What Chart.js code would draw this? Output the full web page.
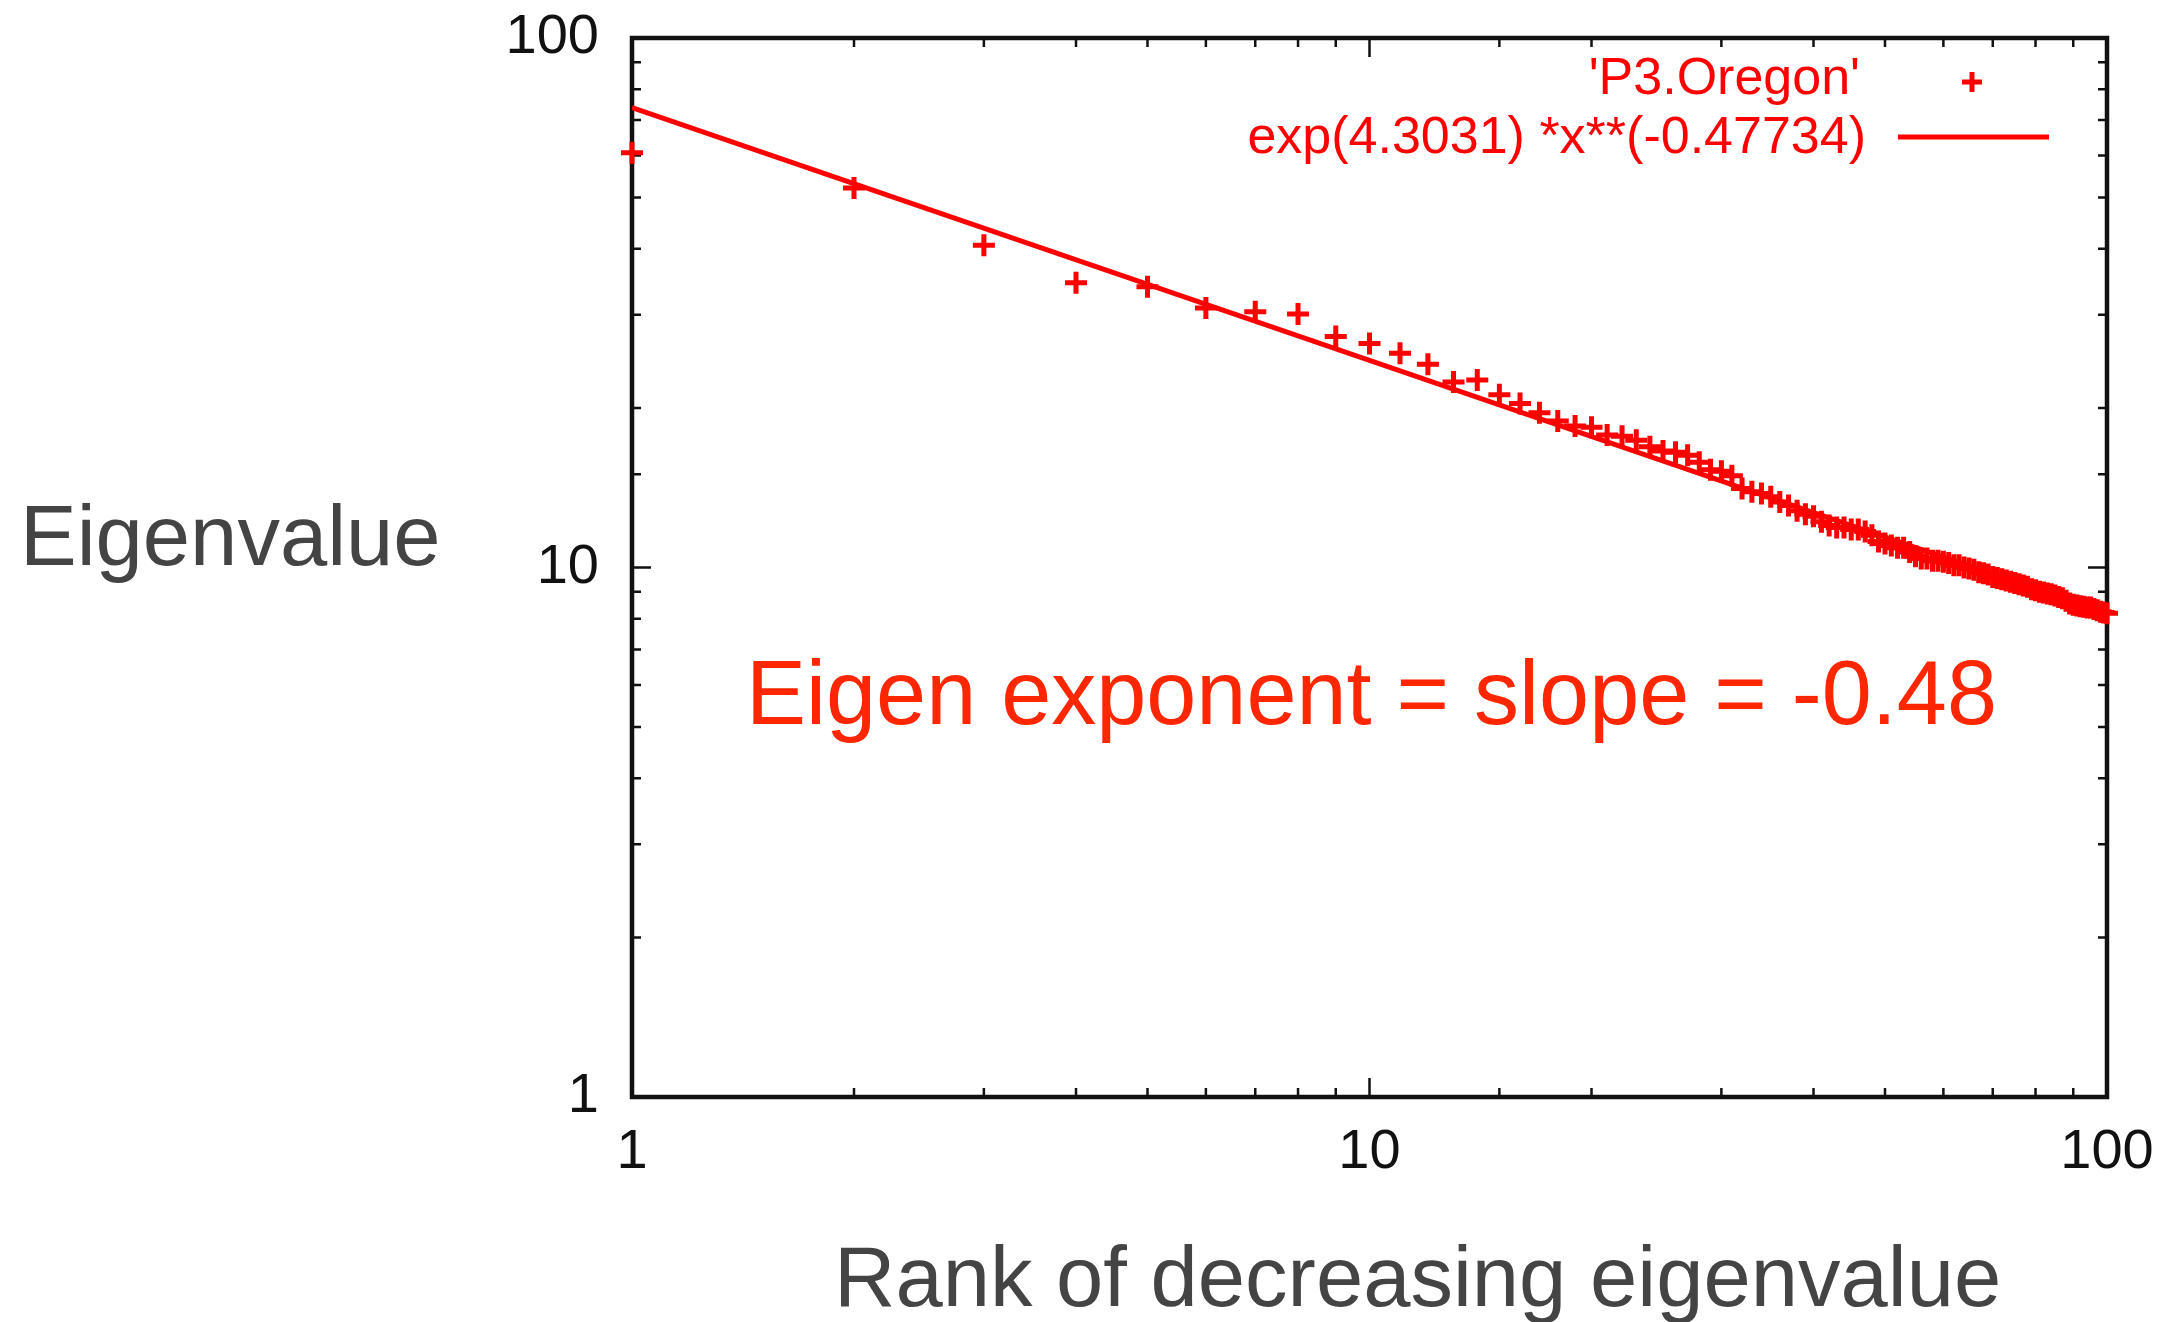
<!DOCTYPE html>
<html>
<head>
<meta charset="utf-8">
<script src="https://cdn.jsdelivr.net/npm/chart.js@4.4.1/dist/chart.umd.min.js"></script>
<style>
  html, body { margin: 0; padding: 0; background: #fff; }
  canvas { display: block; }
</style>
</head>
<body>
<canvas id="chart" width="2160" height="1322"></canvas>
<script>
// rank of each eigenvalue (x) and the eigenvalue (y)
const ranks = [
  1, 2, 3, 4, 5, 6, 7, 8, 9, 10,
  11, 12, 13, 14, 15, 16, 17, 18, 19, 20,
  21, 22, 23, 24, 25, 26, 27, 28, 29, 30,
  31, 32, 33, 34, 35, 36, 37, 38, 39, 40,
  41, 42, 43, 44, 45, 46, 47, 48, 49, 50,
  51, 52, 53, 54, 55, 56, 57, 58, 59, 60,
  61, 62, 63, 64, 65, 66, 67, 68, 69, 70,
  71, 72, 73, 74, 75, 76, 77, 78, 79, 80,
  81, 82, 83, 84, 85, 86, 87, 88, 89, 90,
  91, 92, 93, 94, 95, 96, 97, 98, 99, 100
];
const eigenvalues = [
  60.7, 52.1, 40.6, 34.5, 33.9, 30.9, 30.4, 30.1, 27.3, 26.5,
  25.4, 24.2, 22.4, 22.6, 21.2, 20.4, 19.6, 18.9, 18.5, 18.4,
  17.8, 17.7, 17.4, 16.9, 16.6, 16.5, 16.3, 15.8, 15.3, 15.2,
  14.9, 14.1, 13.9, 13.8, 13.6, 13.3, 13.1, 12.8, 12.6, 12.5,
  12.2, 12.0, 11.9, 11.9, 11.8, 11.8, 11.7, 11.5, 11.2, 11.1,
  11.0, 10.9, 10.9, 10.7, 10.5, 10.4, 10.4, 10.3, 10.3, 10.25,
  10.2, 10.1, 10.1, 10.0, 9.96, 9.9, 9.8, 9.75, 9.7, 9.6,
  9.55, 9.5, 9.45, 9.4, 9.35, 9.3, 9.25, 9.2, 9.1, 9.06,
  9.0, 8.97, 8.93, 8.9, 8.85, 8.8, 8.75, 8.65, 8.55, 8.5,
  8.48, 8.45, 8.43, 8.4, 8.4, 8.35, 8.3, 8.25, 8.22, 8.2
];
// end points of the fitted power law line
const fitX = [1, 100];
const fitY = [73.9, 8.2];

const seriesLabel = "'P3.Oregon'";
const fitLabel = 'exp(4.3031) *x**(-0.47734)';
const yTitle = 'Eigenvalue';
const xTitle = 'Rank of decreasing eigenvalue';
const note = 'Eigen exponent = slope = -0.48';
const tickLabels = [1, 10, 100];

const RED = '#ff0000';
const FONT = '"Liberation Sans", Arial, Helvetica, sans-serif';

const isDecade = v => tickLabels.includes(v);

// gnuplot style frame: border on all sides, ticks pointing inward
const framePlugin = {
  id: 'frame',
  beforeDatasetsDraw(chart) {
    const { ctx, chartArea: a, scales: { x, y } } = chart;
    ctx.save();
    ctx.strokeStyle = '#111';
    ctx.lineWidth = 2.5;
    ctx.beginPath();
    x.ticks.forEach(t => {
      const px = x.getPixelForValue(t.value);
      const len = isDecade(t.value) ? 19 : 9;
      ctx.moveTo(px, a.bottom); ctx.lineTo(px, a.bottom - len);
      ctx.moveTo(px, a.top); ctx.lineTo(px, a.top + len);
    });
    y.ticks.forEach(t => {
      const py = y.getPixelForValue(t.value);
      const len = isDecade(t.value) ? 19 : 9;
      ctx.moveTo(a.left, py); ctx.lineTo(a.left + len, py);
      ctx.moveTo(a.right, py); ctx.lineTo(a.right - len, py);
    });
    ctx.stroke();
    ctx.lineWidth = 4.5;
    ctx.strokeRect(a.left, a.top, a.right - a.left, a.bottom - a.top);
    ctx.restore();
  },
  afterDraw(chart) {
    const { ctx } = chart;
    const sets = chart.data.datasets;
    ctx.save();

    // key, top right inside the frame
    ctx.font = `52px ${FONT}`;
    ctx.fillStyle = RED;
    ctx.strokeStyle = RED;
    ctx.textAlign = 'right';
    ctx.textBaseline = 'middle';
    ctx.fillText(sets[0].label, 1860, 80);
    ctx.fillText(sets[1].label, 1866, 139);
    ctx.lineWidth = 5;
    ctx.beginPath();
    ctx.moveTo(1962, 82); ctx.lineTo(1982, 82);
    ctx.moveTo(1972, 72); ctx.lineTo(1972, 92);
    ctx.moveTo(1898, 137); ctx.lineTo(2049, 137);
    ctx.stroke();

    // axis titles
    ctx.fillStyle = '#444';
    ctx.font = `85px ${FONT}`;
    ctx.textAlign = 'left';
    ctx.textBaseline = 'alphabetic';
    ctx.fillText(yTitle, 20, 565);
    ctx.fillText(xTitle, 834, 1306);

    // slope note
    ctx.fillStyle = '#ff2600';
    ctx.font = `90px ${FONT}`;
    ctx.fillText(note, 746, 724);
    ctx.restore();
  }
};

const logAxis = {
  type: 'logarithmic',
  min: 1,
  max: 100,
  grid: { display: false },
  border: { display: false },
};

new Chart(document.getElementById('chart'), {
  data: {
    datasets: [
      {
        type: 'scatter',
        label: seriesLabel,
        data: ranks.map((r, i) => ({ x: r, y: eigenvalues[i] })),
        pointStyle: 'cross',
        pointRadius: 11,
        pointBorderWidth: 5,
        borderColor: RED,
        backgroundColor: RED,
        clip: false,
      },
      {
        type: 'line',
        label: fitLabel,
        data: fitX.map((v, i) => ({ x: v, y: fitY[i] })),
        borderColor: RED,
        borderWidth: 5,
        pointRadius: 0,
        fill: false,
      },
    ],
  },
  options: {
    responsive: false,
    devicePixelRatio: 1,
    animation: false,
    layout: { padding: { left: 0, right: 53, top: 38, bottom: 0 } },
    plugins: {
      legend: { display: false },
      tooltip: { enabled: false },
    },
    scales: {
      x: {
        ...logAxis,
        afterFit: scale => {
          scale.height = 225;
          scale.paddingLeft = 0;
          scale.paddingRight = 0;
        },
        ticks: {
          autoSkip: false,
          maxRotation: 0,
          padding: 14,
          color: '#111',
          font: { family: FONT, size: 56 },
          callback: v => (isDecade(v) ? String(v) : ''),
        },
      },
      y: {
        ...logAxis,
        afterFit: scale => {
          scale.width = 632;
          scale.paddingTop = 0;
          scale.paddingBottom = 0;
        },
        ticks: {
          autoSkip: false,
          padding: 25,
          color: '#111',
          font: { family: FONT, size: 56 },
          callback: v => (isDecade(v) ? String(v) : ''),
        },
      },
    },
  },
  plugins: [framePlugin],
});
</script>
</body>
</html>
